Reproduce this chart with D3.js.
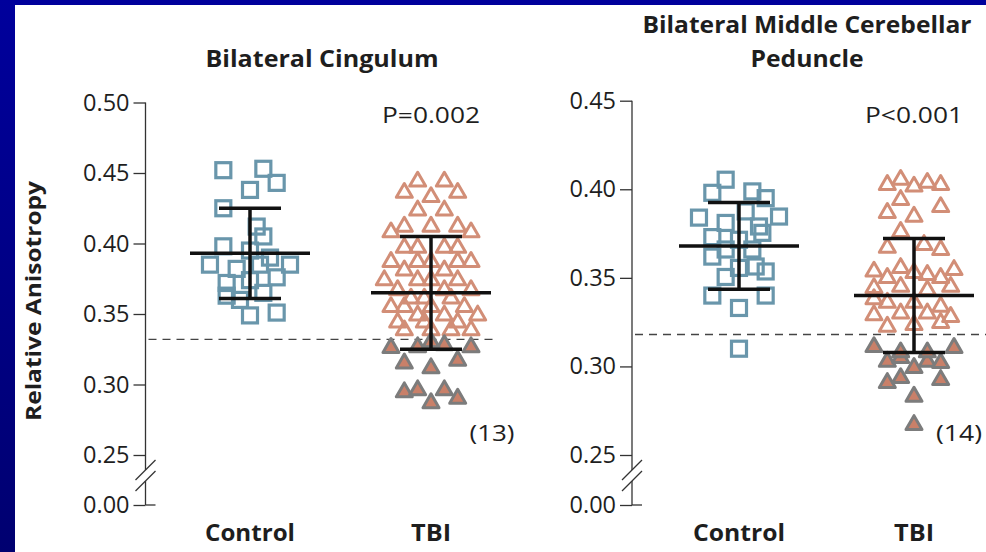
<!DOCTYPE html>
<html>
<head>
<meta charset="utf-8">
<script src="https://cdn.jsdelivr.net/npm/d3@7"></script>
<style>
  body { margin: 0; background: #fff; }
  svg { display: block; font-family: "Open Sans", Lato, sans-serif; }
</style>
</head>
<body>
<svg id="chart" width="986" height="552"></svg>
<script>
// ---- data -------------------------------------------------------------
const groups = ["Control", "TBI"];

// Bilateral cingulum: relative anisotropy per subject; jitter = horizontal spread slot
const cingControl = [0.452, 0.453, 0.443, 0.438, 0.425, 0.412, 0.405, 0.398, 0.395, 0.390, 0.385,
                     0.382, 0.385, 0.385, 0.372, 0.374, 0.376, 0.363, 0.365, 0.349, 0.351, 0.360];
const cingControlJitter = [-4, 2, 4, 0, -4, 1, 2, -4, 0, 3, -6, -2, 6, 1.5, -3.5, 0, 4, -3.5, 2, 0, 4, -1.5];

const cingTBI = [0.444, 0.444, 0.436, 0.436, 0.433, 0.4235, 0.4235, 0.412, 0.412, 0.412, 0.408, 0.408,
                 0.397, 0.397, 0.397, 0.397, 0.387, 0.387, 0.387, 0.387, 0.387, 0.381, 0.381,
                 0.374, 0.374, 0.374, 0.374, 0.367, 0.367, 0.367, 0.361, 0.361, 0.361,
                 0.355, 0.355, 0.355, 0.355, 0.349, 0.349, 0.349, 0.344, 0.344, 0.344,
                 0.3385, 0.3385, 0.3385, 0.3385,
                 0.326, 0.3265, 0.3265, 0.328, 0.330, 0.315, 0.3116, 0.317, 0.2946, 0.296, 0.2868, 0.296, 0.290];
const cingTBIJitter = [-2, 2, -4, 4, 0, -2, 2, -4, 0, 4, -6, 6,
                       -4, -2, 2, 4, -6, -2, 0, 4, 6, -4, 2,
                       -7, -2, 0, 4, -5, 2, 6, -3, -1, 3,
                       -6, -4, 0, 5, -2, 2, 7, -5, -1, 4,
                       -4, 0, 3, 6,
                       -6, -2, 6, 2, 0, -4, 0, 4, -4, -2, 0, 2, 4];
const cingMean = [0.393, 0.365];
const cingSD = [0.032, 0.040];
const cingThreshold = 0.332;
const cingTicks = [0, 0.25, 0.30, 0.35, 0.40, 0.45, 0.50];

// Bilateral middle cerebellar peduncle
const mcpControl = [0.4054, 0.398, 0.3988, 0.395, 0.384, 0.381, 0.3875, 0.379, 0.3846, 0.373, 0.3715,
                    0.3754, 0.362, 0.3556, 0.3564, 0.3536, 0.340, 0.333, 0.340, 0.310, 0.366, 0.366, 0.3505];
const mcpControlJitter = [-2, -4, 2, 4, -6, -2, 1, 3, 6, -4, 0, 3.5, -4, 0, 2.5, 4, -4, 0, 4, 0, -2, 2, -2];

const mcpTBI = [0.4025, 0.4054, 0.4016, 0.4037, 0.4025, 0.394, 0.390, 0.3867, 0.3846, 0.376,
                0.367, 0.3686, 0.3658, 0.3536, 0.3556, 0.3517, 0.3545, 0.350, 0.3528, 0.350,
                0.3443, 0.345, 0.345, 0.343, 0.336, 0.336, 0.3338, 0.329, 0.330, 0.330, 0.328,
                0.3225, 0.3234, 0.3246, 0.338,
                0.311, 0.3105, 0.3027, 0.3048, 0.3027, 0.302, 0.2992, 0.2907, 0.2935, 0.2924,
                0.283, 0.267, 0.308, 0.308];
const mcpTBIJitter = [-4, -2, 0, 2, 4, -2, 4, -4, 0, -2,
                      -4, 1.5, 4, -6, -2, 2, 6, -4, 0, 4,
                      -6, -2, 5.5, 2, -4, 0, 4, -6, -2, 2, 5.5,
                      -4, 0, 4, -6,
                      -6, 6, -4, -2, 2, 4, 0, -4, -2, 4,
                      0, 0, -2, 2];
const mcpMean = [0.368, 0.340];
const mcpSD = [0.0245, 0.0322];
const mcpThreshold = 0.318;
const mcpTicks = [0, 0.25, 0.30, 0.35, 0.40, 0.45];

// ---- drawing ----------------------------------------------------------
const svg = d3.select("#chart");
const W = 986, H = 552;

// frame
const defs = svg.append("defs");
const grad = defs.append("linearGradient").attr("id", "frameGrad")
  .attr("x1", 0).attr("y1", 0).attr("x2", 0).attr("y2", 1);
grad.append("stop").attr("offset", 0).attr("stop-color", "#00009c");
grad.append("stop").attr("offset", 1).attr("stop-color", "#000070");
svg.append("rect").attr("width", W).attr("height", H).attr("fill", "url(#frameGrad)");
svg.append("rect").attr("x", 15).attr("y", 5).attr("width", W - 15).attr("height", H - 5).attr("fill", "#fff");

const TXT = "#1e1e1e";
const COL_SQ = "#6996ab";
const COL_TRI = "#d28e77";
const COL_TRI_FILL = "#c98069";
const COL_TRI_EDGE = "#7c7c7c";

// text helper: fixed size, stretched to a set advance width
function label(parent, x, y, str, size, weight, width) {
  const t = parent.append("text").attr("x", x).attr("y", y).attr("text-anchor", "middle")
    .attr("font-size", size).attr("font-weight", weight).attr("fill", TXT).text(str);
  if (width) t.attr("textLength", width).attr("lengthAdjust", "spacingAndGlyphs");
  return t;
}

const panels = [
  {
    title: ["Bilateral Cingulum"], titleW: [233], titleX: 322,
    axisX: 145.5, yDomain: [0, 0.25, 0.50], yRange: [505, 455, 102.5],
    xRange: [250, 431], dashEnd: 498,
    ticks: cingTicks, threshold: cingThreshold,
    control: cingControl, controlJitter: cingControlJitter,
    tbi: cingTBI, tbiJitter: cingTBIJitter,
    mean: cingMean, sd: cingSD,
    pText: "P=0.002", nText: "(13)", nX: 492, nW: 45, catW: [90, 40]
  },
  {
    title: ["Bilateral Middle Cerebellar", "Peduncle"], titleW: [329, 113], titleX: 807,
    axisX: 632, yDomain: [0, 0.25, 0.45], yRange: [505, 455, 100.7],
    xRange: [739, 914], dashEnd: 986,
    ticks: mcpTicks, threshold: mcpThreshold,
    control: mcpControl, controlJitter: mcpControlJitter,
    tbi: mcpTBI, tbiJitter: mcpTBIJitter,
    mean: mcpMean, sd: mcpSD,
    pText: "P<0.001", nText: "(14)", nX: 959, nW: 46, catW: [92, 40]
  }
];

const jitter = d3.scaleLinear().domain([-1, 1]).range([-6.67, 6.67]);
const SQ = 15, TRI = 16;
const triPath = s => {
  const h = s * Math.sqrt(3) / 2;
  return `M0,${-2 * h / 3}L${s / 2},${h / 3}L${-s / 2},${h / 3}Z`;
};

panels.forEach(p => {
  const g = svg.append("g");
  const y = d3.scaleLinear().domain(p.yDomain).range(p.yRange);
  const x = d3.scalePoint().domain(groups).range(p.xRange);

  // title
  const lh = 34;
  p.title.forEach((t, i) => {
    label(g, p.titleX, 67 - (p.title.length - 1 - i) * lh, t, 24, 700, p.titleW[i]);
  });

  // axis ticks + labels
  const ax = g.append("g").attr("transform", `translate(${p.axisX},0)`)
    .call(d3.axisLeft(y).tickValues(p.ticks).tickSize(12).tickPadding(4).tickFormat(d3.format(".2f")));
  ax.select(".domain").remove();
  ax.selectAll(".tick line").attr("stroke", "#333").attr("stroke-width", 1.3);
  ax.selectAll(".tick text").attr("font-size", 23.5).attr("fill", TXT)
    .attr("font-family", "'Open Sans', Lato, sans-serif");
  // tick at zero crosses the axis
  g.append("line").attr("x1", p.axisX).attr("x2", p.axisX + 10)
    .attr("y1", y(0)).attr("y2", y(0)).attr("stroke", "#333").attr("stroke-width", 1.3);

  // axis line with break
  const topY = y(p.ticks[p.ticks.length - 1]);
  const b1 = 470, b2 = 481;
  g.append("line").attr("x1", p.axisX).attr("x2", p.axisX).attr("y1", topY).attr("y2", b1)
    .attr("stroke", "#333").attr("stroke-width", 1.3);
  g.append("line").attr("x1", p.axisX).attr("x2", p.axisX).attr("y1", b2).attr("y2", y(0))
    .attr("stroke", "#333").attr("stroke-width", 1.3);
  [b1, b2].forEach(by => {
    g.append("line").attr("x1", p.axisX - 10).attr("y1", by + 10)
      .attr("x2", p.axisX + 10).attr("y2", by - 10)
      .attr("stroke", "#333").attr("stroke-width", 1.3);
  });

  // threshold line
  g.append("line").attr("x1", p.axisX + 3).attr("x2", p.dashEnd)
    .attr("y1", y(p.threshold)).attr("y2", y(p.threshold))
    .attr("stroke", "#444").attr("stroke-width", 1.4).attr("stroke-dasharray", "8,6");

  // control squares
  const cx = x("Control");
  g.append("g").selectAll("rect").data(p.control).join("rect")
    .attr("x", (d, i) => cx + jitter(p.controlJitter[i]) - SQ / 2)
    .attr("y", d => y(d) - SQ / 2)
    .attr("width", SQ).attr("height", SQ)
    .attr("fill", "none").attr("stroke", COL_SQ).attr("stroke-width", 3.2);

  // TBI triangles, filled when below the threshold
  const tx = x("TBI");
  g.append("g").selectAll("path").data(p.tbi).join("path")
    .attr("d", triPath(TRI))
    .attr("transform", (d, i) => `translate(${tx + jitter(p.tbiJitter[i])},${y(d)})`)
    .attr("fill", d => d < p.threshold ? COL_TRI_FILL : "none")
    .attr("stroke", d => d < p.threshold ? COL_TRI_EDGE : COL_TRI)
    .attr("stroke-width", 3)
    .attr("stroke-linejoin", "round");

  // mean ± SD
  groups.forEach((grp, i) => {
    const gx = x(grp), m = p.mean[i], s = p.sd[i];
    const lines = [
      [gx - 60, y(m), gx + 60, y(m)],
      [gx - 31, y(m + s), gx + 31, y(m + s)],
      [gx - 31, y(m - s), gx + 31, y(m - s)],
      [gx, y(m + s), gx, y(m - s)]
    ];
    lines.forEach(l => g.append("line")
      .attr("x1", l[0]).attr("y1", l[1]).attr("x2", l[2]).attr("y2", l[3])
      .attr("stroke", "#111").attr("stroke-width", 3.5));
  });

  // P value and n
  label(g, tx, 123, p.pText, 22, 400, 98);
  label(g, p.nX, 441, p.nText, 22, 400, p.nW);

  // category labels
  groups.forEach((grp, i) => label(g, x(grp), 541, grp, 24, 700, p.catW[i]));
});

// y axis title
label(svg.append("g").attr("transform", "translate(41,301) rotate(-90)"),
  0, 0, "Relative Anisotropy", 22, 700, 240);
</script>
</body>
</html>
